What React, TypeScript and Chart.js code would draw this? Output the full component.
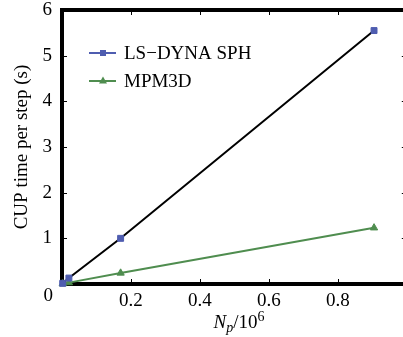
import React, { useEffect, useRef } from "react";
import { Chart, registerables } from "chart.js";

Chart.register(...registerables);

const FONT = "'Liberation Serif', 'Times New Roman', Times, serif";

const seriesNames = ["LS\u2212DYNA SPH", "MPM3D"];
const splX = [0.002, 0.02, 0.17, 0.905];
const splY = [0.015, 0.13, 1.0, 5.55];
const mpmX = [0.002, 0.02, 0.17, 0.905];
const mpmY = [0.005, 0.03, 0.24, 1.23];
const xTickValues = [0.2, 0.4, 0.6, 0.8];
const yTickValues = [1, 2, 3, 4, 5];
const yTitle = "CUP time per step (s)";

const BLUE = "#4f5db0";
const GREEN = "#4f8d4f";

const framePlugin = {
  id: "frame",
  beforeDatasetsDraw(chart: any) {
    const { ctx, chartArea: a, scales } = chart;
    const x = scales.x;
    const y = scales.y;
    ctx.save();
    ctx.strokeStyle = "#000";
    ctx.lineWidth = 1;
    ctx.beginPath();
    for (const v of xTickValues) {
      const px = Math.round(x.getPixelForValue(v)) + 0.5;
      ctx.moveTo(px, a.bottom);
      ctx.lineTo(px, a.bottom - 5);
      ctx.moveTo(px, a.top);
      ctx.lineTo(px, a.top + 5);
    }
    for (const v of yTickValues) {
      const py = Math.round(y.getPixelForValue(v)) + 0.5;
      ctx.moveTo(a.left, py);
      ctx.lineTo(a.left + 5, py);
      ctx.moveTo(a.right, py);
      ctx.lineTo(a.right - 5, py);
    }
    ctx.stroke();
    ctx.lineWidth = 4;
    ctx.lineCap = "square";
    ctx.beginPath();
    ctx.moveTo(a.right + 4, a.top);
    ctx.lineTo(a.left, a.top);
    ctx.lineTo(a.left, a.bottom);
    ctx.lineTo(a.right + 4, a.bottom);
    ctx.stroke();
    ctx.restore();
  },
  afterDraw(chart: any) {
    const { ctx, chartArea: a } = chart;
    ctx.save();
    ctx.fillStyle = "#000";
    // origin label
    ctx.font = `19px ${FONT}`;
    ctx.textAlign = "right";
    ctx.textBaseline = "middle";
    ctx.fillText("0", a.left - 9, a.bottom + 12);

    // legend
    const rows = [
      { name: seriesNames[0], color: BLUE, y: 53, style: "rect" },
      { name: seriesNames[1], color: GREEN, y: 81, style: "triangle" },
    ];
    for (const r of rows) {
      ctx.strokeStyle = r.color;
      ctx.lineWidth = 2;
      ctx.beginPath();
      ctx.moveTo(89, r.y);
      ctx.lineTo(116, r.y);
      ctx.stroke();
      ctx.fillStyle = r.color;
      ctx.beginPath();
      if (r.style === "rect") {
        ctx.rect(103 - 3, r.y - 3, 6, 6);
      } else {
        ctx.moveTo(103, r.y - 4.5);
        ctx.lineTo(107, r.y + 2.5);
        ctx.lineTo(99, r.y + 2.5);
        ctx.closePath();
      }
      ctx.fill();
      ctx.fillStyle = "#000";
      ctx.font = `19px ${FONT}`;
      ctx.textAlign = "left";
      ctx.textBaseline = "middle";
      ctx.fillText(r.name, 124, r.y + 1);
    }

    // x title: N_p / 10^6
    const parts = [
      { t: "N", f: `italic 19px ${FONT}`, dy: 0 },
      { t: "p", f: `italic 14px ${FONT}`, dy: 4 },
      { t: "/10", f: `19px ${FONT}`, dy: 0 },
      { t: "6", f: `14px ${FONT}`, dy: -7 },
    ];
    let total = 0;
    for (const p of parts) {
      ctx.font = p.f;
      total += ctx.measureText(p.t).width;
    }
    let cx = 239 - total / 2;
    ctx.textAlign = "left";
    ctx.textBaseline = "alphabetic";
    for (const p of parts) {
      ctx.font = p.f;
      ctx.fillText(p.t, cx, 328 + p.dy);
      cx += ctx.measureText(p.t).width;
    }
    ctx.restore();
  },
};

function zeroPad(s: any) {
  s.paddingTop = 0;
  s.paddingBottom = 0;
  s.paddingLeft = 0;
  s.paddingRight = 0;
}

export default function App() {
  const ref = useRef<HTMLCanvasElement | null>(null);
  useEffect(() => {
    document.body.style.margin = "0";
    const canvas = ref.current!;
    const chart = new Chart(canvas, {
      type: "line",
      data: {
        datasets: [
          {
            label: seriesNames[0],
            data: splX.map((v, i) => ({ x: v, y: splY[i] })),
            borderColor: "#000",
            borderWidth: 2,
            pointStyle: "rect",
            pointRadius: 4.2,
            pointBackgroundColor: BLUE,
            pointBorderColor: BLUE,
            pointBorderWidth: 1,
            clip: false as any,
          },
          {
            label: seriesNames[1],
            data: mpmX.map((v, i) => ({ x: v, y: mpmY[i] })),
            borderColor: GREEN,
            borderWidth: 2,
            pointStyle: "triangle",
            pointRadius: 4.2,
            pointBackgroundColor: GREEN,
            pointBorderColor: GREEN,
            pointBorderWidth: 1,
            clip: false as any,
          },
        ],
      },
      options: {
        animation: false,
        responsive: false,
        maintainAspectRatio: false,
        devicePixelRatio: 1,
        layout: { padding: { top: 10, right: 5, left: 0, bottom: 0 } },
        plugins: { legend: { display: false }, tooltip: { enabled: false } },
        scales: {
          x: {
            type: "linear",
            min: 0,
            max: 1,
            grid: { display: false, drawTicks: false },
            border: { display: false },
            ticks: {
              stepSize: 0.2,
              padding: 6,
              color: "#000",
              font: { family: FONT, size: 19 },
              maxRotation: 0,
              callback: (v: any) => {
                const n = Number(v);
                if (n <= 0 || n >= 0.999) return "";
                return n.toFixed(1);
              },
            },
            afterFit: (s: any) => {
              s.height = 53;
              zeroPad(s);
            },
          },
          y: {
            type: "linear",
            min: 0,
            max: 6,
            grid: { display: false, drawTicks: false },
            border: { display: false },
            title: {
              display: true,
              text: yTitle,
              color: "#000",
              font: { family: FONT, size: 19 },
              padding: { top: 11, bottom: 0 },
            },
            ticks: {
              stepSize: 1,
              padding: 10,
              color: "#000",
              font: { family: FONT, size: 19 },
              callback: (v: any) => (Number(v) === 0 ? "" : String(v)),
            },
            afterFit: (s: any) => {
              s.width = 62;
              zeroPad(s);
            },
          },
        },
      },
      plugins: [framePlugin],
    } as any);
    return () => chart.destroy();
  }, []);
  return (
    <div
      style={{
        position: "fixed",
        left: 0,
        top: 0,
        width: 403,
        height: 337,
        overflow: "hidden",
        background: "#fff",
      }}
    >
      <canvas ref={ref} width={412} height={337} style={{ width: 412, height: 337, display: "block" }} />
    </div>
  );
}
